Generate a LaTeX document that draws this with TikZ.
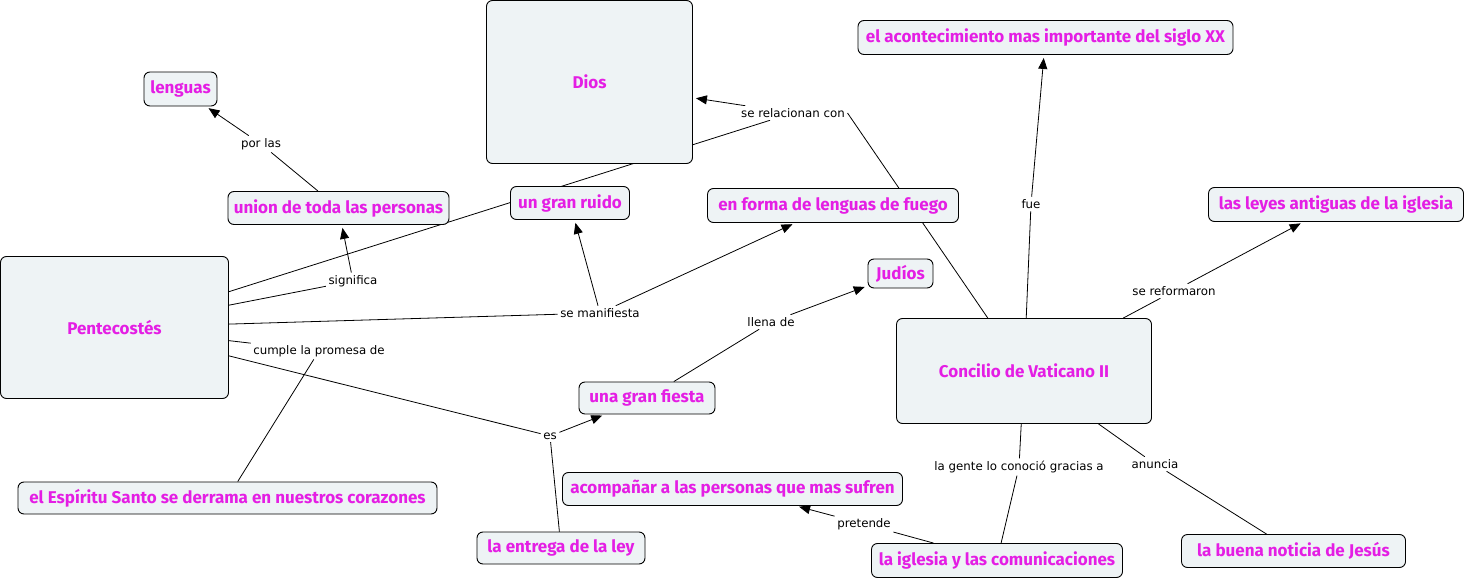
\documentclass[tikz,border=0pt]{standalone}
\usepackage{fontspec}
\setmainfont{Fira Sans}
\newfontfamily\lblfont{DejaVu Sans}
\usetikzlibrary{arrows.meta,backgrounds}
\definecolor{cmag}{RGB}{228,30,228}
\definecolor{cfill}{RGB}{238,243,245}
\tikzset{
  concept/.style={draw=black, line width=0.9pt, fill=cfill, rounded corners=6pt,
    text=cmag, font=\fontsize{17}{19}\selectfont\bfseries, inner sep=0pt},
  link/.style={font=\lblfont\fontsize{11.8}{13}\selectfont, fill=white, inner sep=2.5pt, text=black},
  conn/.style={line width=0.8pt, draw=black},
  arr/.style={conn, -{Triangle[length=11pt,width=9pt]}, shorten >=3pt}
}
\begin{document}
\begin{tikzpicture}[x=1pt,y=-1pt]
\useasboundingbox (0,0) rectangle (1465,580);
% concepts
\node[concept, minimum width=206, minimum height=163] (dios) at (589.5,82) {Dios};
\node[concept, minimum width=73, minimum height=34] (lenguas) at (180.5,89) {lenguas};
\node[concept, minimum width=221, minimum height=33] (union) at (338.5,208) {union de toda las personas};
\node[concept, minimum width=119, minimum height=33] (ruido) at (570,203) {un gran ruido};
\node[concept, minimum width=251, minimum height=34] (fuego) at (833,205.5) {en forma de lenguas de fuego};
\node[concept, minimum width=375, minimum height=34] (acont) at (1045.5,37.5) {el acontecimiento mas importante del siglo XX};
\node[concept, minimum width=255, minimum height=34] (leyes) at (1336,204.5) {las leyes antiguas de la iglesia};
\node[concept, minimum width=65, minimum height=29] (judios) at (900.5,273.5) {Judíos};
\node[concept, minimum width=228, minimum height=142] (pente) at (114.5,327.5) {Pentecostés};
\node[concept, minimum width=255, minimum height=105] (conc) at (1024,371) {Concilio de Vaticano II};
\node[concept, minimum width=136, minimum height=32] (fiesta) at (647,398) {una gran fiesta};
\node[concept, minimum width=419, minimum height=32] (espiritu) at (227.5,498) {el Espíritu Santo se derrama en nuestros corazones};
\node[concept, minimum width=340, minimum height=33] (acomp) at (732.5,489) {acompañar a las personas que mas sufren};
\node[concept, minimum width=168, minimum height=32] (entrega) at (561,548) {la entrega de la ley};
\node[concept, minimum width=251, minimum height=34] (iglesia) at (997,560.5) {la iglesia y las comunicaciones};
\node[concept, minimum width=224, minimum height=33] (buena) at (1293.5,551) {la buena noticia de Jesús};
% link labels
\node[link] (porlas) at (261,144) {por las};
\node[link] (significa) at (353,281) {significa};
\node[link] (relac) at (793,113) {se relacionan con};
\node[link] (manif) at (600,313) {se manifiesta};
\node[link] (cumple) at (319,351) {cumple la promesa de};
\node[link] (es) at (550,436) {es};
\node[link] (llena) at (771,322) {llena de};
\node[link] (fue) at (1031,204) {fue};
\node[link] (reform) at (1174,291) {se reformaron};
\node[link] (gente) at (1019,467) {la gente lo conoció gracias a};
\node[link] (anuncia) at (1155,464) {anuncia};
\node[link] (pretende) at (864,524) {pretende};
% connectors
\begin{pgfonlayer}{background}
\draw[conn] (union) -- (porlas);
\draw[arr] (porlas) -- (lenguas);
\draw[conn] (pente) -- (significa);
\draw[arr] (significa) -- (union);
\draw[conn] (pente) -- (relac);
\draw[conn] (conc) -- (relac.east);
\draw[arr] (relac) -- (dios);
\draw[conn] (pente) -- (manif);
\draw[arr] (manif) -- (ruido);
\draw[arr] (manif) -- (fuego);
\draw[conn] (pente) -- (cumple);
\draw[conn] (cumple) -- (espiritu);
\draw[conn] (pente) -- (es);
\draw[arr] (es) -- (fiesta);
\draw[conn] (es) -- (entrega);
\draw[conn] (fiesta) -- (llena);
\draw[arr] (llena) -- (judios);
\draw[conn] (conc) -- (fue);
\draw[arr] (fue) -- (acont);
\draw[conn] (conc) -- (reform);
\draw[arr] (reform) -- (leyes);
\draw[conn] (conc) -- (gente);
\draw[conn] (gente) -- (iglesia);
\draw[conn] (conc) -- (anuncia);
\draw[conn] (anuncia) -- (buena);
\draw[conn] (iglesia) -- (pretende);
\draw[arr] (pretende) -- (acomp);
\end{pgfonlayer}
\end{tikzpicture}
\end{document}
